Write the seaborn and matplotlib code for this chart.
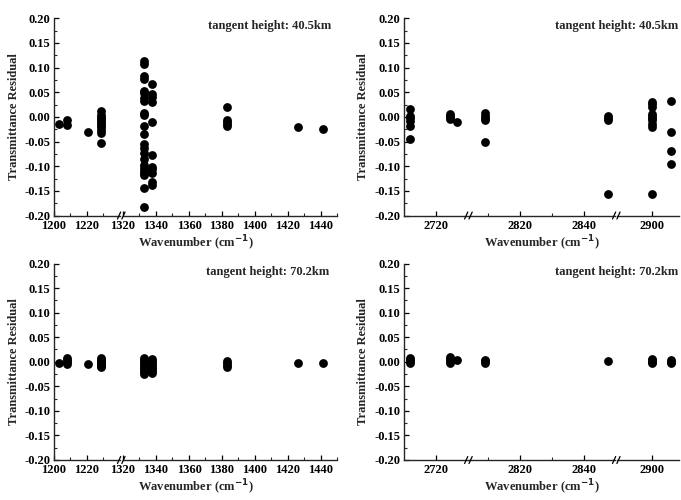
import matplotlib
matplotlib.use("Agg")
import numpy as np
import pandas as pd
import seaborn as sns
import matplotlib.pyplot as plt
from matplotlib.ticker import FixedLocator, MultipleLocator
from matplotlib.lines import Line2D

# ---------------- data ----------------
# panel A: 1200-1450 cm-1, tangent height 40.5 km
wn_a = ([1203.5] + [1208] * 2 + [1221] + [1228.5] * 11 + [1333] * 23 + [1337.5] * 11
        + [1383] * 5 + [1426] + [1441])
res_a = ([-0.014]
         + [-0.006, -0.016]
         + [-0.031]
         + [0.011, 0.004, 0.000, -0.004, -0.008, -0.012, -0.016, -0.020, -0.026, -0.032, -0.052]
         + [0.113, 0.107, 0.082, 0.076, 0.053, 0.048, 0.038, 0.033, 0.007, 0.003, -0.019,
            -0.035, -0.055, -0.063, -0.074, -0.086, -0.097, -0.104, -0.109, -0.114, -0.117,
            -0.144, -0.183]
         + [0.066, 0.046, 0.041, 0.030, -0.010, -0.078, -0.102, -0.106, -0.113, -0.133, -0.138]
         + [0.020, -0.006, -0.010, -0.014, -0.019]
         + [-0.020]
         + [-0.025])

# panel B: 2700-2910 cm-1, tangent height 40.5 km
wn_b = ([2712] * 6 + [2724.5] * 4 + [2726.8] + [2809] * 5 + [2847.6] * 4 + [2900] * 10
        + [2906] * 4)
res_b = ([0.017, 0.002, -0.003, -0.008, -0.019, -0.044]
         + [0.006, 0.002, -0.001, -0.004]
         + [-0.011]
         + [0.007, 0.002, -0.002, -0.007, -0.051]
         + [0.002, -0.002, -0.007, -0.157]
         + [0.031, 0.026, 0.021, 0.006, 0.002, -0.002, -0.007, -0.014, -0.020, -0.157]
         + [0.033, -0.030, -0.069, -0.095])

# panel C: 1200-1450 cm-1, tangent height 70.2 km
wn_c = ([1203.5] + [1208] * 4 + [1221] + [1228.5] * 7 + [1333] * 9 + [1337.5] * 8
        + [1383] * 4 + [1426] + [1441])
res_c = ([-0.003]
         + [0.007, 0.003, 0.000, -0.004]
         + [-0.005]
         + [0.007, 0.004, 0.001, -0.002, -0.005, -0.008, -0.010]
         + [0.007, 0.003, -0.001, -0.005, -0.009, -0.013, -0.017, -0.021, -0.024]
         + [0.005, 0.001, -0.003, -0.007, -0.011, -0.015, -0.019, -0.022]
         + [0.001, -0.003, -0.007, -0.010]
         + [-0.002]
         + [-0.003])

# panel D: 2700-2910 cm-1, tangent height 70.2 km
wn_d = ([2712] * 4 + [2724.5] * 4 + [2726.8] + [2809] * 3 + [2847.6] + [2900] * 4 + [2906] * 3)
res_d = ([0.007, 0.004, 0.001, -0.002]
         + [0.010, 0.006, 0.002, -0.002]
         + [0.003]
         + [0.004, 0.001, -0.002]
         + [0.001]
         + [0.006, 0.003, 0.000, -0.003]
         + [0.003, 0.000, -0.003])

labels_heights = ["tangent height: 40.5km", "tangent height: 40.5km",
                  "tangent height: 70.2km", "tangent height: 70.2km"]

# broken-axis segments: (xmin, xmax, major ticks, minor ticks)
segs_low = [(1200, 1240, [1200, 1220], [1210, 1230]),
            (1320, 1450, [1320, 1340, 1360, 1380, 1400, 1420, 1440],
             [1330, 1350, 1370, 1390, 1410, 1430, 1450])]
segs_high = [(2710, 2730, [2720], []),
             (2804, 2850, [2820, 2840], [2810, 2830]),
             (2889, 2908.5, [2900], [])]

# ---------------- style ----------------
sns.set_theme(style="ticks")
plt.rcParams["font.family"] = ["Liberation Serif", "DejaVu Serif"]
plt.rcParams["font.weight"] = "bold"
plt.rcParams["axes.unicode_minus"] = False
plt.rcParams["mathtext.default"] = "bf"

W, H = 681, 500
fig = plt.figure(figsize=(W / 100, H / 100), dpi=100)


def px_axes(x0, x1, ytop, ybot):
    return fig.add_axes([x0 / W, 1 - ybot / H, (x1 - x0) / W, (ybot - ytop) / H])


def draw_panel(wn, res, segs, x_start, scale, gap, ytop, ybot, label, ylab_x, text_right):
    df = pd.DataFrame({"wn": wn, "res": res})
    x = x_start
    for i, (lo, hi, major, minor) in enumerate(segs):
        x1 = x + (hi - lo) * scale
        ax = px_axes(x, x1, ytop, ybot)
        sns.scatterplot(data=df, x="wn", y="res", ax=ax, color="black", s=40,
                        linewidth=0, legend=False)
        ax.set_xlim(lo, hi)
        ax.set_ylim(-0.20, 0.20)
        ax.xaxis.set_major_locator(FixedLocator(major))
        ax.xaxis.set_minor_locator(FixedLocator(minor))
        ax.yaxis.set_major_locator(MultipleLocator(0.05))
        ax.yaxis.set_minor_locator(MultipleLocator(0.025))
        ax.set_xlabel("")
        ax.set_ylabel("")
        for s in ["top", "right"]:
            ax.spines[s].set_visible(False)
        ax.spines["bottom"].set_linewidth(1.0)
        ax.spines["left"].set_linewidth(1.0)
        ax.tick_params(axis="both", which="major", direction="in", length=3.5, width=0.9,
                       labelsize=9, colors="black")
        ax.tick_params(axis="x", which="major", pad=3.2)
        ax.tick_params(axis="y", which="major", pad=2.5)
        ax.tick_params(axis="both", which="minor", direction="in", length=2, width=0.8)
        for t in ax.get_xticklabels() + ax.get_yticklabels():
            t.set_fontweight("bold")
        if i == 0:
            ax.yaxis.set_major_formatter(matplotlib.ticker.FormatStrFormatter("%.2f"))
        else:
            ax.spines["left"].set_visible(False)
            ax.tick_params(axis="y", which="both", left=False, labelleft=False)
        ax.patch.set_alpha(0)
        # break marks
        if i < len(segs) - 1:
            bx = x1 + gap / 2
            for off in (-2.2, 2.2):
                fig.add_artist(Line2D([(bx + off - 1.6) / W, (bx + off + 1.6) / W],
                                      [1 - (ybot + 3.5) / H, 1 - (ybot - 3.5) / H],
                                      color="black", lw=0.9))
        x = x1 + gap
    x_end = x - gap
    fig.text(ylab_x / W, 1 - (ytop + ybot) / 2 / H, "Transmittance Residual", rotation=90,
             ha="center", va="center", fontsize=9, fontweight="bold")
    fig.text(text_right / W, 1 - (ytop + 8) / H, label, ha="right", va="center",
             fontsize=9, fontweight="bold")
    fig.text((x_start + x_end) / 2 / W, 1 - (ybot + 27.5) / H, r"Wavenumber (cm$^{\mathbf{-1}}$)",
             ha="center", va="center", fontsize=9, fontweight="bold")


draw_panel(wn_a, res_a, segs_low, 53.5, 1.65, 3.5, 18.3, 215.5, labels_heights[0], 14, 331)
draw_panel(wn_b, res_b, segs_high, 404, 3.18, 1.6, 18.3, 215.5, labels_heights[1], 363, 678)
draw_panel(wn_c, res_c, segs_low, 53.5, 1.65, 3.5, 263.5, 460, labels_heights[2], 14, 329)
draw_panel(wn_d, res_d, segs_high, 404, 3.18, 1.6, 263.5, 460, labels_heights[3], 363, 678)

fig.savefig("out.png", dpi=100)
